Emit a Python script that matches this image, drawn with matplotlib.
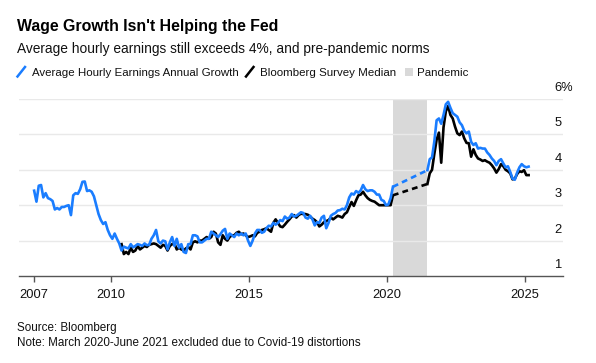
import matplotlib
matplotlib.use("Agg")
import matplotlib.pyplot as plt
from matplotlib.lines import Line2D
from matplotlib.patches import Rectangle
import matplotlib.transforms as mtrans
import numpy as np

# ---------------- data ----------------
blue_pre_start = (2007, 3)
blue_pre = [
    3.41, 3.10, 3.55, 3.57, 3.22, 3.34, 3.20, 3.17, 3.12, 2.88,
    2.92, 2.88, 2.95, 2.95, 2.98, 3.00, 2.72, 3.28, 3.34, 3.32,
    3.45, 3.66, 3.67, 3.40, 3.42, 3.38, 3.25, 3.00, 2.75, 2.58,
    2.47, 2.52, 2.30, 2.15, 2.05, 2.20, 2.05, 1.92,
    1.72, 1.83, 1.80, 1.78, 1.90, 1.81, 1.85, 1.90, 1.88, 1.85,
    1.92, 1.87, 1.88, 2.05, 2.15, 2.30, 1.98, 1.92, 2.00, 1.98,
    1.75, 1.95, 2.10, 1.85, 2.05, 1.80, 1.90, 1.68, 1.65, 1.90,
    1.90, 2.15, 2.15, 2.12, 1.95, 1.95, 2.00, 2.05, 2.05, 2.25,
    2.20, 2.15, 2.10, 2.18, 2.28, 2.33, 2.05, 2.20, 2.15, 2.10,
    2.20, 2.15, 2.20, 2.15, 2.20, 2.00, 1.85, 2.00, 2.20, 2.30,
    2.30, 2.22, 2.25, 2.35, 2.42, 2.40, 2.50, 2.45, 2.50, 2.58,
    2.55, 2.68, 2.62, 2.65, 2.75, 2.68,
    2.70, 2.75, 2.80, 2.78, 2.65, 2.62, 2.70, 2.60, 2.43, 2.52,
    2.50, 2.65, 2.70, 2.35, 2.50, 2.70, 2.75, 2.78, 2.85, 2.86,
    2.90, 2.88, 3.00, 3.22, 3.33, 3.30, 3.40, 3.35, 3.42, 3.57,
    3.45, 3.40, 3.42, 3.42, 3.38, 3.30, 3.30, 3.15, 3.12, 3.00,
    3.02, 3.20, 3.52,
]
black_pre_start = (2010, 5)
black_pre = [
    1.90, 1.62, 1.68, 1.62, 1.80, 1.68, 1.72, 1.85, 1.75, 1.80,
    1.85, 1.82, 1.88, 1.90, 1.92, 1.90, 1.85, 1.80, 1.88, 1.85,
    1.72, 1.85, 1.90, 1.92, 1.75, 1.80, 1.75, 1.72, 1.78, 1.82,
    1.75, 1.95, 1.98, 1.95, 2.00, 2.00, 2.05, 2.10, 2.05, 2.10,
    2.25, 2.20, 1.95, 1.88, 2.15, 2.05, 2.00, 2.10, 2.15, 2.15,
    2.22, 2.25, 2.18, 2.20, 2.15, 2.10, 2.12, 2.15, 2.12, 2.22,
    2.25, 2.30, 2.32, 2.35, 2.30, 2.25, 2.50, 2.60, 2.50, 2.40,
    2.38, 2.45, 2.53, 2.60, 2.68, 2.72, 2.65, 2.72, 2.76, 2.75,
    2.75, 2.73, 2.68, 2.62, 2.58, 2.52, 2.40, 2.45, 2.52, 2.55,
    2.58, 2.65, 2.60, 2.65, 2.70, 2.68, 2.65, 2.75, 2.80, 2.95,
    3.09, 2.98, 3.14, 3.28, 3.30, 3.38, 3.28, 3.20, 3.15, 3.12,
    3.10, 3.05, 3.00, 3.00, 3.00, 3.00, 3.00, 3.00, 3.28,
]
post_start = (2021, 6)
blue_post = [
    3.99, 4.30, 4.35, 4.80, 5.40, 5.45, 5.30, 5.55, 5.85, 5.92,
    5.75, 5.60, 5.55, 5.50, 5.34, 5.26, 5.10, 5.03, 5.08, 4.79,
    4.70, 4.75, 4.60, 4.62, 4.60, 4.60, 4.49, 4.42, 4.32, 4.25,
    4.13, 4.25, 4.30, 4.18, 4.07, 4.10, 3.94, 3.75, 3.72, 3.92,
    4.07, 4.16, 4.10, 4.07, 4.09,
]
black_post = [
    3.60, 3.90, 4.00, 4.45, 4.85, 5.05, 4.20, 5.20, 5.65, 5.80,
    5.55, 5.45, 5.22, 5.03, 4.98, 5.08, 4.89, 4.76, 4.75, 4.37,
    4.58, 4.42, 4.32, 4.29, 4.25, 4.27, 4.23, 4.20, 4.13, 4.04,
    3.92, 4.02, 4.16, 4.10, 4.00, 3.96, 3.90, 3.73, 3.75, 3.88,
    3.96, 3.94, 3.99, 3.85, 3.85,
]
pandemic_start = (2020, 3)
pandemic_end = (2021, 6)
x_ticks = [2010, 2015, 2020, 2025]
first_label = "2007"
y_ticks = [1, 2, 3, 4, 5, 6]

title = "Wage Growth Isn't Helping the Fed"
subtitle = "Average hourly earnings still exceeds 4%, and pre-pandemic norms"
legend_labels = ["Average Hourly Earnings Annual Growth", "Bloomberg Survey Median", "Pandemic"]
source = "Source: Bloomberg"
note = "Note: March 2020-June 2021 excluded due to Covid-19 distortions"

BLUE = "#1a7dff"
BLACK = "#000000"
SHADE = "#d9d9d9"
GRID = "#e9e9e9"
AXIS = "#555555"


def month_pos(ym):
    y, m = ym
    return y + (m - 0.5) / 12.0


def months(start, n):
    return month_pos(start) + np.arange(n) / 12.0


plt.rcParams['font.family'] = ['Liberation Sans', 'DejaVu Sans']

W, H = 596, 363
fig = plt.figure(figsize=(W / 100, H / 100), dpi=100)


def fx(px):
    return px / W


def fy(py):
    return 1 - py / H


ax = fig.add_axes([fx(19.3), fy(276), fx(562.7) - fx(19.3), fy(99) - fy(276)])
ax.set_xlim(2006.67, 2026.36)
ax.set_ylim(1, 6)

xb_pre = months(blue_pre_start, len(blue_pre))
xk_pre = months(black_pre_start, len(black_pre))
x_post = months(post_start, len(blue_post))
xk_post = months(post_start, len(black_post))

ax.axvspan(month_pos(pandemic_start), month_pos(pandemic_end), color=SHADE, lw=0, zorder=0)
for v in y_ticks[1:]:
    ax.axhline(v, color=GRID, lw=1.0, zorder=0.5)

lw = 1.9
ax.plot(xk_pre, black_pre, color=BLACK, lw=lw, zorder=2, solid_joinstyle='round')
ax.plot(xk_post, black_post, color=BLACK, lw=lw, zorder=2, solid_joinstyle='round')
ax.plot([xk_pre[-1], xk_post[0]], [black_pre[-1], black_post[0]], color=BLACK, lw=lw,
        ls=(0, (2.2, 1.6)), zorder=2)
ax.plot(xb_pre, blue_pre, color=BLUE, lw=lw, zorder=3, solid_joinstyle='round')
ax.plot(x_post, blue_post, color=BLUE, lw=lw, zorder=3, solid_joinstyle='round')
ax.plot([xb_pre[-1], x_post[0]], [blue_pre[-1], blue_post[0]], color=BLUE, lw=lw,
        ls=(0, (2.2, 1.6)), zorder=3)

for s in ['top', 'right', 'left']:
    ax.spines[s].set_visible(False)
ax.spines['bottom'].set_color(AXIS)
ax.spines['bottom'].set_linewidth(1.0)
ax.set_yticks([])
ticks = [xb_pre[0]] + x_ticks
ax.set_xticks(ticks)
ax.set_xticklabels([first_label] + [str(t) for t in x_ticks])
ax.tick_params(axis='x', length=4, width=1.0, color=AXIS, labelsize=9.3, pad=5, labelcolor='#111111')

# y labels above gridlines at right
off = mtrans.offset_copy(ax.get_yaxis_transform(), fig=fig, x=0, y=5, units='dots')
for v in y_ticks:
    lab = f"{v}%" if v == y_ticks[-1] else f"{v}"
    ax.text(0.985, v, lab, transform=off, ha='left', va='bottom', fontsize=9.3, color='#111111')

# titles
fig.text(fx(17), fy(31), title, fontsize=11.45, fontweight='bold', ha='left', va='baseline', color='#000000')
fig.text(fx(17), fy(53.5), subtitle, fontsize=9.95, ha='left', va='baseline', color='#111111')

# legend
ly = 75.5
fs_leg = 8.25
fig.add_artist(Line2D([fx(17.5), fx(25)], [fy(76.5), fy(67)], color=BLUE, lw=1.8))
fig.text(fx(32), fy(ly), legend_labels[0], fontsize=fs_leg, ha='left', va='baseline', color='#111111')
fig.add_artist(Line2D([fx(246), fx(253.5)], [fy(76.5), fy(67)], color=BLACK, lw=1.8))
fig.text(fx(260.5), fy(ly), legend_labels[1], fontsize=fs_leg, ha='left', va='baseline', color='#111111')
fig.add_artist(Rectangle((fx(405), fy(75.5)), fx(7.7), fy(67.5) - fy(75.5), transform=fig.transFigure,
                         color=SHADE, lw=0))
fig.text(fx(417), fy(ly), legend_labels[2], fontsize=fs_leg, ha='left', va='baseline', color='#111111')

fig.text(fx(17), fy(330.5), source, fontsize=8.4, ha='left', va='baseline', color='#111111')
fig.text(fx(17), fy(345.5), note, fontsize=8.4, ha='left', va='baseline', color='#111111')

fig.savefig("out.png", dpi=100)
